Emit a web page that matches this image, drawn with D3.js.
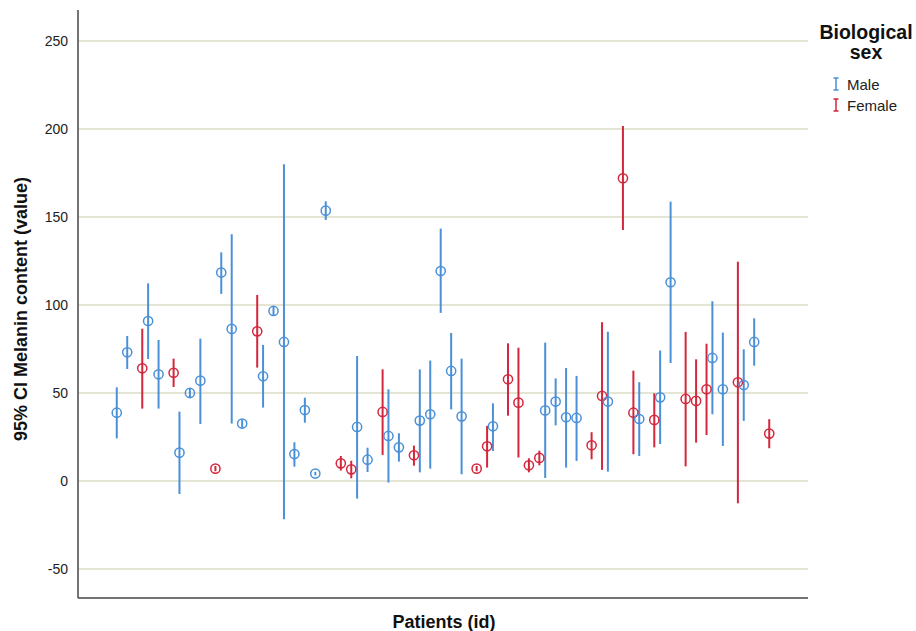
<!DOCTYPE html>
<html>
<head>
<meta charset="utf-8">
<script src="https://cdn.jsdelivr.net/npm/d3@7"></script>
<style>
  body { margin: 0; background: #fff; }
  svg { display: block; font-family: "Liberation Sans", Arial, sans-serif; }
</style>
</head>
<body>
<svg id="chart" width="916" height="631"></svg>
<script>
// patient ids (x axis categories, no tick labels shown)
const ids = ["1","2","3","4","5","6","7","8","9","10","11","12","13","14","15","16","17","18","19","20",
  "21","22","23","24","25","26","27","28","29","30","31","32","33","34","35","36","37","38","39","40",
  "41","42","43","44","45","46","47","48","49","50","51","52","53","54","55","56","57","58","59","60",
  "61","62","63"];
// M = male, F = female
const sex = ["M","M","F","M","M","F","M","M","M","F","M","M","M","F","M","M","M","M","M","M",
  "M","F","F","M","M","F","M","M","F","M","M","M","M","M","F","F","M","F","F","F",
  "F","M","M","M","M","F","F","M","F","F","M","F","M","M","F","F","F","M","M","F",
  "M","M","F"];
const means = [38.8,73.1,64.0,90.9,60.6,61.5,16.1,50.0,57.0,7.0,118.4,86.4,32.6,85.0,59.5,96.6,79.0,15.3,40.3,4.2,
  153.6,10.0,6.6,30.7,12.1,39.2,25.6,19.1,14.6,34.3,37.9,119.3,62.5,36.7,7.0,19.7,31.1,57.8,44.5,8.9,
  13.1,40.1,45.1,36.2,35.8,20.3,48.3,45.1,172.0,38.8,35.2,34.7,47.5,112.9,46.6,45.5,52.1,69.9,52.1,56.1,
  54.5,79.0,26.9];
const upper = [53.2,82.4,86.5,112.3,80.1,69.5,39.4,52.6,80.9,8.5,129.9,140.2,34.8,105.7,77.3,98.9,179.9,22.0,47.3,5.2,
  158.9,14.2,11.5,71.0,18.9,63.4,52.1,27.1,20.1,63.4,68.4,143.4,84.1,69.5,8.5,31.3,44.1,78.2,75.7,12.9,
  17.2,78.6,58.3,64.2,59.7,27.7,90.2,84.8,201.7,62.7,56.1,49.8,74.1,158.7,84.7,69.1,78.0,102.1,84.3,124.6,
  74.8,92.4,35.1];
const lower = [24.2,63.6,41.1,69.3,41.1,53.4,-7.4,47.0,32.4,5.5,106.3,32.6,30.3,64.4,41.7,94.3,-21.8,8.1,33.1,3.2,
  148.3,5.9,1.5,-10.0,5.1,14.8,-0.9,11.0,8.7,4.9,7.0,95.5,40.7,3.8,5.5,7.6,17.0,37.1,13.3,4.9,
  8.9,1.7,31.6,7.6,11.4,12.3,6.3,5.3,142.6,15.2,14.2,19.1,21.0,67.0,8.3,21.8,26.1,37.9,19.9,-12.7,
  34.1,65.5,18.6];
const yTicks = [-50, 0, 50, 100, 150, 200, 250];
const legendItems = [{key: "M", label: "Male"}, {key: "F", label: "Female"}];

const data = ids.map((id, i) => ({id: id, sex: sex[i], mean: means[i], lo: lower[i], hi: upper[i]}));

const svg = d3.select("#chart");
const margin = {left: 78, right: 808, top: 10, bottom: 598};

const color = d3.scaleOrdinal().domain(["M", "F"]).range(["#4a90d9", "#d4263c"]);

const xScale = d3.scalePoint()
    .domain(ids)
    .range([margin.left, margin.right])
    .padding(3.93);
// clustered: male and female slots within each patient
const xSub = d3.scalePoint()
    .domain(["M", "F"])
    .range([-2.3, 2.3]);
const xPos = d => xScale(d.id) + xSub(d.sex);

const yScale = d3.scaleLinear()
    .domain([-66.5, 267.6])
    .range([margin.bottom, margin.top]);

// gridlines
svg.append("g")
    .selectAll("line")
    .data(yTicks)
    .join("line")
    .attr("x1", margin.left + 1)
    .attr("x2", margin.right)
    .attr("y1", d => yScale(d))
    .attr("y2", d => yScale(d))
    .attr("stroke", "#dcdcc6")
    .attr("stroke-width", 1.5);

// y axis labels (no tick marks)
const yAxis = d3.axisLeft(yScale).tickValues(yTicks).tickFormat(d => String(d)).tickSize(0).tickPadding(10);
const gy = svg.append("g")
    .attr("transform", `translate(${margin.left},0)`)
    .call(yAxis);
gy.select(".domain").remove();
gy.selectAll("text")
    .attr("font-size", 14)
    .attr("font-family", "Liberation Sans, Arial, sans-serif")
    .attr("fill", "#222");

// axis lines
svg.append("line")
    .attr("x1", margin.left).attr("x2", margin.left)
    .attr("y1", margin.top).attr("y2", margin.bottom)
    .attr("stroke", "#444").attr("stroke-width", 1.5);
svg.append("line")
    .attr("x1", margin.left).attr("x2", margin.right)
    .attr("y1", margin.bottom).attr("y2", margin.bottom)
    .attr("stroke", "#444").attr("stroke-width", 1.5);

// error bars
const marks = svg.append("g");
marks.selectAll(".ci")
    .data(data)
    .join("line")
    .attr("class", "ci")
    .attr("x1", xPos)
    .attr("x2", xPos)
    .attr("y1", d => yScale(d.hi))
    .attr("y2", d => yScale(d.lo))
    .attr("stroke", d => color(d.sex))
    .attr("stroke-width", 2);

marks.selectAll(".mean")
    .data(data)
    .join("circle")
    .attr("class", "mean")
    .attr("cx", xPos)
    .attr("cy", d => yScale(d.mean))
    .attr("r", 4.6)
    .attr("fill", "none")
    .attr("stroke", d => color(d.sex))
    .attr("stroke-width", 1.5);

// axis titles
svg.append("text")
    .attr("transform", `translate(27,${(margin.top + margin.bottom) / 2 + 5}) rotate(-90)`)
    .attr("text-anchor", "middle")
    .attr("font-size", 18)
    .attr("font-weight", "bold")
    .attr("fill", "#111")
    .text("95% CI Melanin content (value)");

svg.append("text")
    .attr("x", 444)
    .attr("y", 628)
    .attr("text-anchor", "middle")
    .attr("font-size", 18)
    .attr("font-weight", "bold")
    .attr("fill", "#111")
    .text("Patients (id)");

// legend
const legend = svg.append("g");
legend.append("text")
    .attr("x", 866).attr("y", 39)
    .attr("text-anchor", "middle")
    .attr("font-size", 19.5).attr("font-weight", "bold").attr("fill", "#111")
    .text("Biological");
legend.append("text")
    .attr("x", 866).attr("y", 59)
    .attr("text-anchor", "middle")
    .attr("font-size", 19.5).attr("font-weight", "bold").attr("fill", "#111")
    .text("sex");

const li = legend.selectAll(".li")
    .data(legendItems)
    .join("g")
    .attr("class", "li")
    .attr("transform", (d, i) => `translate(836,${84 + i * 21})`);
li.append("path")
    .attr("d", "M-2.5,-6H2.5M0,-6V6M-2.5,6H2.5")
    .attr("fill", "none")
    .attr("stroke", d => color(d.key))
    .attr("stroke-width", 1.5);
li.append("text")
    .attr("x", 11).attr("y", 5.5)
    .attr("font-size", 15).attr("fill", "#222")
    .text(d => d.label);
</script>
</body>
</html>
